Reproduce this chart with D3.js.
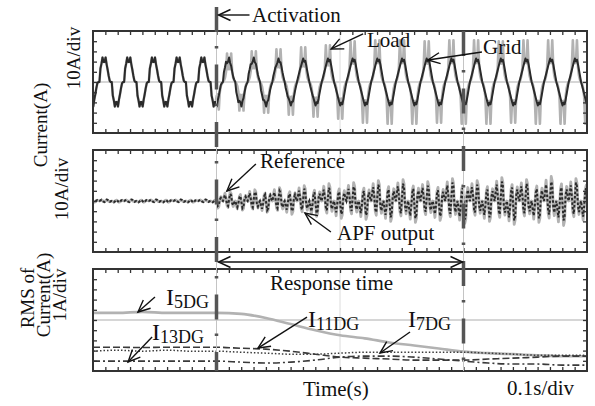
<!DOCTYPE html>
<html>
<head>
<meta charset="utf-8">
<script src="https://cdn.jsdelivr.net/npm/d3@7"></script>
<style>
  body { margin: 0; background: #fff; }
  svg { display: block; }
  text { font-family: "Liberation Serif", "Times New Roman", serif; fill: #111; }
</style>
</head>
<body>
<svg id="chart" width="595" height="406"></svg>
<script>
// ---- time base (0.1 s/div, 10 divisions) ----
const timeSpan = [0, 1.0];
const activationTime = 0.25;
const responseEndTime = 0.75;
const mainsPeriod = 0.05;
const firstCycleStart = 0.013;
const cycleIndex = d3.range(-1, 21);          // cycles -1 .. 20
const timeTicks = d3.range(1, 40).map(i => i * 0.025);
const currentTicks = [-40, -30, -20, -10, 0, 10, 20, 30, 40];
const rmsTicks = [1, 2, 3, 4, 5, 6, 7, 8, 9];

// ---- half-cycle waveform templates (negative half is the mirror) ----
const gridShapeBefore = [0, 0.55, 0.75, 1.0, 0.82, 0.82, 1.0, 0.72, 0.5, 0.25, 0.05, 0, 0];
const gridShapeAfter  = [0, 0.16, 0.33, 0.5, 0.68, 0.85, 1.0, 0.88, 0.95, 0.75, 0.5, 0.25, 0];
const loadShapeAfter  = [0, 0.05, 0.15, 0.35, 1.0, 0.45, 0.5, 0.45, 1.0, 0.35, 0.15, 0.05, 0];
const compShape       = [0, 0.45, 0.85, 0.3, -0.5, -0.7, 0.2, 1.0, 0.8, -0.3, -0.6, -0.2, 0];

// ---- per-cycle peak values (A), cycles -1 .. 20; first entry = idle state ----
const gridPeak     = [24, 24, 24, 24, 24, 24, 24, 24, 23, 23, 23, 23, 23, 23, 23, 23, 23, 23, 23, 23, 23, 23];
const gridNewShare = [0, 0, 0, 0, 0, 0.15, 0.35, 0.55, 0.75, 0.9, 1, 1, 1, 1, 1, 1, 1, 1, 1, 1, 1, 1];
const loadPeak     = [24, 24, 24, 24, 24, 27, 28, 30, 32, 34, 36, 40, 41, 41, 40, 41, 41, 40, 41, 41, 41, 41];
const refPeak      = [1.2, 1.2, 1.2, 1.2, 1.2, 7, 9, 11, 13, 15, 17, 18, 20, 21, 19, 22, 20, 23, 21, 24, 22, 22];
const apfPeak      = [1.4, 1.4, 1.4, 1.4, 1.4, 5, 7, 9, 10, 12, 13, 14, 16, 17, 15, 18, 16, 19, 17, 19, 18, 18];

// ---- RMS of distorted-grid harmonic currents (A) ----
const rmsTime = [0, 0.05, 0.1, 0.15, 0.2, 0.25, 0.3, 0.35, 0.4, 0.45, 0.5, 0.55, 0.6, 0.65, 0.7, 0.75, 0.8, 0.85, 0.9, 0.95, 1.0];
const i5DG  = [5.7, 5.7, 5.8, 5.7, 5.7, 5.7, 5.6, 5.2, 4.6, 4.0, 3.5, 3.2, 2.8, 2.5, 2.2, 1.9, 1.75, 1.65, 1.55, 1.45, 1.45];
const i11DG = [2.33, 2.33, 2.3, 2.33, 2.33, 2.33, 2.23, 2.14, 1.94, 1.65, 1.36, 1.26, 1.17, 1.07, 1.07, 1.07, 1.17, 1.26, 1.36, 1.46, 1.46];
const i7DG  = [1.94, 2.04, 1.94, 2.04, 1.94, 1.94, 1.84, 1.75, 1.65, 1.65, 1.75, 1.84, 1.84, 1.84, 1.84, 1.84, 1.75, 1.65, 1.55, 1.55, 1.55];
const i13DG = [0.97, 0.97, 0.97, 0.97, 0.97, 0.97, 0.87, 0.78, 0.87, 1.07, 1.36, 1.46, 1.46, 1.36, 1.17, 0.97, 0.78, 0.68, 0.68, 0.58, 0.58];

// ---- layout ----
const svg = d3.select("#chart");
const plotLeft = 93, plotRight = 587;
const panelTop = [31, 150, 269];
const panelH = 102;
const frameColor = "#333";
const darkTrace = "#2a2a2a";
const lightTrace = "#b2b2b2";
const gridColor = "#c9c9c9";

const x = d3.scaleLinear().domain(timeSpan).range([plotLeft, plotRight]);
const y1 = d3.scaleLinear().domain([-50, 50]).range([panelTop[0] + panelH, panelTop[0]]);
const y2 = d3.scaleLinear().domain([-50, 50]).range([panelTop[1] + panelH, panelTop[1]]);
const y3 = d3.scaleLinear().domain([0, 10]).range([panelTop[2] + panelH, panelTop[2]]);

// Expand per-cycle templates into sampled traces
function buildTrace(valueAt) {
  const pts = [];
  cycleIndex.forEach(k => {
    const start = firstCycleStart + k * mainsPeriod;
    for (let j = 0; j < 24; j++) {
      const t = start + j * mainsPeriod / 24;
      const sign = j < 12 ? 1 : -1;
      const s = j % 12;
      const c = t < activationTime ? 0 : k + 1;
      pts.push([t, valueAt(c, s, sign)]);
    }
  });
  return pts;
}

const gridTrace = buildTrace((c, s, sign) => {
  const w = gridNewShare[c];
  return sign * gridPeak[c] * ((1 - w) * gridShapeBefore[s] + w * gridShapeAfter[s]);
});
const loadTrace = buildTrace((c, s, sign) =>
  c === 0 ? sign * gridPeak[c] * gridShapeBefore[s] : sign * loadPeak[c] * loadShapeAfter[s]);
const refTrace = buildTrace((c, s, sign) => sign * refPeak[c] * compShape[s]);
const apfTrace = buildTrace((c, s, sign) => sign * apfPeak[c] * compShape[s]);

// ---- panels ----
function panelFrame(idx, yScale, gridValue) {
  const top = panelTop[idx], bottom = top + panelH;
  const g = svg.append("g");
  const clipId = "clip" + idx;
  svg.append("clipPath").attr("id", clipId)
    .append("rect").attr("x", plotLeft).attr("y", top)
    .attr("width", plotRight - plotLeft).attr("height", panelH);
  // centre graticule
  g.append("line").attr("x1", plotLeft).attr("x2", plotRight)
    .attr("y1", yScale(gridValue)).attr("y2", yScale(gridValue))
    .attr("stroke", gridColor).attr("stroke-width", 1.5);
  g.append("line").attr("x1", x(0.5)).attr("x2", x(0.5))
    .attr("y1", top).attr("y2", bottom)
    .attr("stroke", "#dcdcdc").attr("stroke-width", 1);
  const data = g.append("g").attr("clip-path", `url(#${clipId})`);
  return { g, data, top, bottom };
}

function panelBorder(p, yScale, valueTicks) {
  const tickStyle = sel => {
    sel.select(".domain").remove();
    sel.selectAll(".tick line").attr("stroke", frameColor).attr("stroke-width", 1.3);
  };
  p.g.append("g").attr("transform", `translate(0,${p.top})`)
    .call(d3.axisBottom(x).tickValues(timeTicks).tickSize(4).tickFormat("")).call(tickStyle);
  p.g.append("g").attr("transform", `translate(0,${p.bottom})`)
    .call(d3.axisTop(x).tickValues(timeTicks).tickSize(4).tickFormat("")).call(tickStyle);
  p.g.append("g").attr("transform", `translate(${plotLeft},0)`)
    .call(d3.axisRight(yScale).tickValues(valueTicks).tickSize(4).tickFormat("")).call(tickStyle);
  p.g.append("g").attr("transform", `translate(${plotRight},0)`)
    .call(d3.axisLeft(yScale).tickValues(valueTicks).tickSize(4).tickFormat("")).call(tickStyle);
  p.g.append("rect").attr("x", plotLeft).attr("y", p.top)
    .attr("width", plotRight - plotLeft).attr("height", panelH)
    .attr("fill", "none").attr("stroke", frameColor).attr("stroke-width", 2);
}

// Panel 1: load and grid current
const p1 = panelFrame(0, y1, 0);
const line1 = d3.line().x(d => x(d[0])).y(d => y1(d[1]));
p1.data.append("path").datum(loadTrace).attr("d", line1)
  .attr("fill", "none").attr("stroke", lightTrace).attr("stroke-width", 2.6).attr("stroke-linejoin", "round");
p1.data.append("path").datum(gridTrace).attr("d", line1)
  .attr("fill", "none").attr("stroke", darkTrace).attr("stroke-width", 2).attr("stroke-linejoin", "round");
panelBorder(p1, y1, currentTicks);

// Panel 2: reference and APF output current
const p2 = panelFrame(1, y2, 0);
const line2 = d3.line().x(d => x(d[0])).y(d => y2(d[1]));
p2.data.append("path").datum(refTrace).attr("d", line2)
  .attr("fill", "none").attr("stroke", lightTrace).attr("stroke-width", 2.8).attr("stroke-linejoin", "round");
p2.data.append("path").datum(apfTrace).attr("d", line2)
  .attr("fill", "none").attr("stroke", darkTrace).attr("stroke-width", 2)
  .attr("stroke-dasharray", "2.5,2");
panelBorder(p2, y2, currentTicks);

// Panel 3: RMS of harmonic currents
const p3 = panelFrame(2, y3, 5);
const rmsLine = vals => d3.line().curve(d3.curveMonotoneX)
  .x((d, i) => x(rmsTime[i])).y(d => y3(d))(vals);
p3.data.append("path").attr("d", rmsLine(i5DG))
  .attr("fill", "none").attr("stroke", lightTrace).attr("stroke-width", 2.6);
p3.data.append("path").attr("d", rmsLine(i11DG))
  .attr("fill", "none").attr("stroke", "#3a3a3a").attr("stroke-width", 1.6).attr("stroke-dasharray", "7,3");
p3.data.append("path").attr("d", rmsLine(i7DG))
  .attr("fill", "none").attr("stroke", "#3a3a3a").attr("stroke-width", 1.5).attr("stroke-dasharray", "1.5,2");
p3.data.append("path").attr("d", rmsLine(i13DG))
  .attr("fill", "none").attr("stroke", "#3a3a3a").attr("stroke-width", 1.6).attr("stroke-dasharray", "7,3,2,3");
panelBorder(p3, y3, rmsTicks);

// ---- activation and settling markers ----
function marker(t, yStart) {
  const yEnd = panelTop[2] + panelH;
  svg.append("line").attr("x1", x(t)).attr("x2", x(t)).attr("y1", yStart).attr("y2", yEnd)
    .attr("stroke", "#c4c4c4").attr("stroke-width", 1);
  svg.append("line").attr("x1", x(t)).attr("x2", x(t)).attr("y1", yStart).attr("y2", yEnd)
    .attr("stroke", "#555").attr("stroke-width", 3.5).attr("stroke-dasharray", "25,14,2.5,16");
}
marker(activationTime, 7);
marker(responseEndTime, panelTop[0]);

// ---- annotation arrows ----
function arrowHead(g, tip, from, len = 12, half = 5.5) {
  const dx = tip[0] - from[0], dy = tip[1] - from[1];
  const L = Math.hypot(dx, dy), ux = dx / L, uy = dy / L;
  const bx = tip[0] - ux * len, by = tip[1] - uy * len;
  g.append("path")
    .attr("d", `M${bx - uy * half},${by + ux * half}L${tip[0]},${tip[1]}L${bx + uy * half},${by - ux * half}`)
    .attr("fill", "none").attr("stroke", "#111").attr("stroke-width", 1.4);
}
function arrow(tip, tail) {
  const g = svg.append("g");
  g.append("line").attr("x1", tail[0]).attr("y1", tail[1]).attr("x2", tip[0]).attr("y2", tip[1])
    .attr("stroke", "#111").attr("stroke-width", 1.4);
  arrowHead(g, tip, tail);
}
const at = (t, v, ys, dx, dy) => [[x(t), ys(v)], [x(t) + dx, ys(v) + dy]];

arrow([x(activationTime) + 2, 15], [x(activationTime) + 33, 15]);
arrow(...at(0.482, 32.4, y1, 32, -15));          // Load
arrow(...at(0.678, 21.6, y1, 54, -8));           // Grid
arrow(...at(0.271, 9.8, y2, 29, -27));           // Reference
arrow(...at(0.429, -11.8, y2, 26, 19));          // APF output
arrow(...at(0.091, 5.78, y3, 17, -15));          // I5DG
arrow(...at(0.071, 0.88, y3, 24, -25));          // I13DG
arrow(...at(0.334, 2.25, y3, 49, -31));          // I11DG
arrow(...at(0.581, 1.76, y3, 30, -21));          // I7DG

// response time span
{
  const g = svg.append("g");
  const yA = 262, xa = x(activationTime) + 2, xb = x(responseEndTime) - 1;
  g.append("line").attr("x1", xa).attr("x2", xb).attr("y1", yA).attr("y2", yA)
    .attr("stroke", "#111").attr("stroke-width", 1.4);
  arrowHead(g, [xa, yA], [xb, yA]);
  arrowHead(g, [xb, yA], [xa, yA]);
}

// ---- text ----
function label(px, py, txt, size = 21) {
  svg.append("text").attr("x", px).attr("y", py).style("font-size", size + "px").text(txt);
}
label(252, 22, "Activation");
label(367, 47, "Load");
label(483, 54, "Grid");
label(260, 168, "Reference");
label(337, 240, "APF output");
label(270, 290, "Response time");
label(303, 396, "Time(s)");
label(507, 395, "0.1s/div");

function harmonicLabel(px, py, sub) {
  const t = svg.append("text").attr("x", px).attr("y", py).style("font-size", "24px");
  t.append("tspan").text("I");
  t.append("tspan").attr("dy", 3).style("font-size", "18px").text(sub);
}
harmonicLabel(166, 305, "5DG");
harmonicLabel(152, 340, "13DG");
harmonicLabel(308, 327, "11DG");
harmonicLabel(408, 327, "7DG");

function vLabel(bx, cy, txt, size = 19) {
  svg.append("text").attr("transform", `translate(${bx},${cy}) rotate(-90)`)
    .attr("text-anchor", "middle").style("font-size", size + "px").text(txt);
}
vLabel(47, 125, "Current(A)");
vLabel(80, 58, "10A/div");
vLabel(68, 189, "10A/div");
vLabel(34, 298, "RMS of");
vLabel(50, 295, "Current(A)");
vLabel(66, 295, "1A/div");
</script>
</body>
</html>
